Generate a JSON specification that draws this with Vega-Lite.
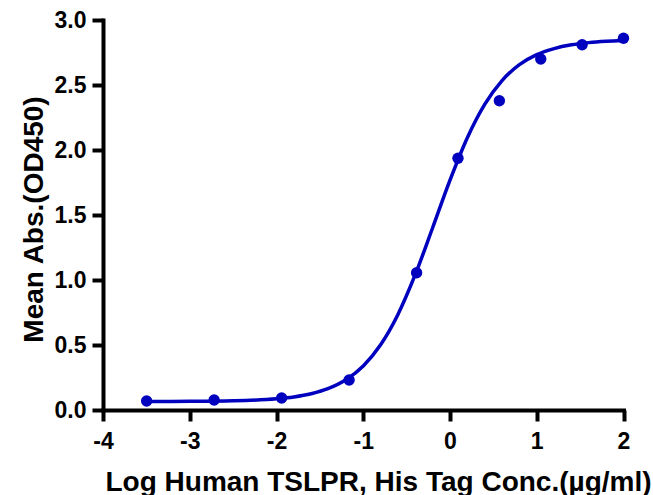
{
  "$schema": "https://vega.github.io/schema/vega-lite/v6.json",
  "width": 520.5,
  "height": 390,
  "autosize": {"type": "none"},
  "padding": {"left": 103, "top": 20, "right": 29.5, "bottom": 85},
  "background": "white",
  "config": {"view": {"stroke": null}},
  "datasets": {
    "points": [
      {"x": -3.497, "y": 0.069},
      {"x": -2.719, "y": 0.077},
      {"x": -1.941, "y": 0.092},
      {"x": -1.163, "y": 0.231},
      {"x": -0.385, "y": 1.056},
      {"x": 0.092, "y": 1.936},
      {"x": 0.569, "y": 2.379},
      {"x": 1.046, "y": 2.70},
      {"x": 1.523, "y": 2.81},
      {"x": 2.0, "y": 2.86}
    ],
    "curve": [
      {"x": -3.5, "y": 0.0654},
      {"x": -3.0, "y": 0.0665},
      {"x": -2.5, "y": 0.0705},
      {"x": -2.0, "y": 0.0858},
      {"x": -1.8, "y": 0.1003},
      {"x": -1.6, "y": 0.1248},
      {"x": -1.4, "y": 0.1655},
      {"x": -1.2, "y": 0.2321},
      {"x": -1.0, "y": 0.3386},
      {"x": -0.8, "y": 0.5015},
      {"x": -0.6, "y": 0.7353},
      {"x": -0.4, "y": 1.0426},
      {"x": -0.2, "y": 1.402},
      {"x": 0.0, "y": 1.768},
      {"x": 0.2, "y": 2.0945},
      {"x": 0.4, "y": 2.351},
      {"x": 0.6, "y": 2.534},
      {"x": 0.8, "y": 2.656},
      {"x": 1.0, "y": 2.733},
      {"x": 1.2, "y": 2.780},
      {"x": 1.4, "y": 2.809},
      {"x": 1.6, "y": 2.826},
      {"x": 1.8, "y": 2.836},
      {"x": 2.0, "y": 2.842}
    ]
  },
  "layer": [
    {
      "data": {"name": "curve"},
      "mark": {"type": "line", "interpolate": "monotone", "color": "#0000BF", "strokeWidth": 3.5},
      "encoding": {
        "x": {
          "field": "x", "type": "quantitative",
          "scale": {"domain": [-4, 2], "nice": false, "zero": false},
          "axis": {
            "values": [-4, -3, -2, -1, 0, 1, 2],
            "labelExpr": "datum.value",
            "title": "Log Human TSLPR, His Tag Conc.(µg/ml)",
            "grid": false,
            "domainColor": "#000000", "domainWidth": 4, "domainCap": "square",
            "tickColor": "#000000", "tickWidth": 4, "tickSize": 11,
            "labelFont": "Liberation Sans", "labelFontWeight": "bold", "labelFontSize": 23, "labelColor": "#000000",
            "labelPadding": 9, "labelFlush": false, "labelOverlap": false,
            "titleFont": "Liberation Sans", "titleFontWeight": "bold", "titleFontSize": 28, "titleColor": "#000000",
            "titleX": 275, "titleY": 80, "titleAlign": "center", "titleBaseline": "alphabetic"
          }
        },
        "y": {
          "field": "y", "type": "quantitative",
          "scale": {"domain": [0, 3], "nice": false},
          "axis": {
            "values": [0, 0.5, 1, 1.5, 2, 2.5, 3],
            "format": ".1f",
            "title": "Mean Abs.(OD450)",
            "grid": false,
            "domainColor": "#000000", "domainWidth": 4, "domainCap": "square",
            "tickColor": "#000000", "tickWidth": 4, "tickSize": 11,
            "labelFont": "Liberation Sans", "labelFontWeight": "bold", "labelFontSize": 23, "labelColor": "#000000",
            "labelPadding": 6, "labelFlush": false, "labelOverlap": false,
            "titleFont": "Liberation Sans", "titleFontWeight": "bold", "titleFontSize": 28, "titleColor": "#000000",
            "titleX": -61, "titleY": 199, "titleAngle": -90, "titleAlign": "center", "titleBaseline": "alphabetic"
          }
        }
      }
    },
    {
      "data": {"name": "points"},
      "mark": {"type": "circle", "color": "#0000BF", "opacity": 1, "size": 130},
      "encoding": {
        "x": {"field": "x", "type": "quantitative"},
        "y": {"field": "y", "type": "quantitative"}
      }
    }
  ]
}
